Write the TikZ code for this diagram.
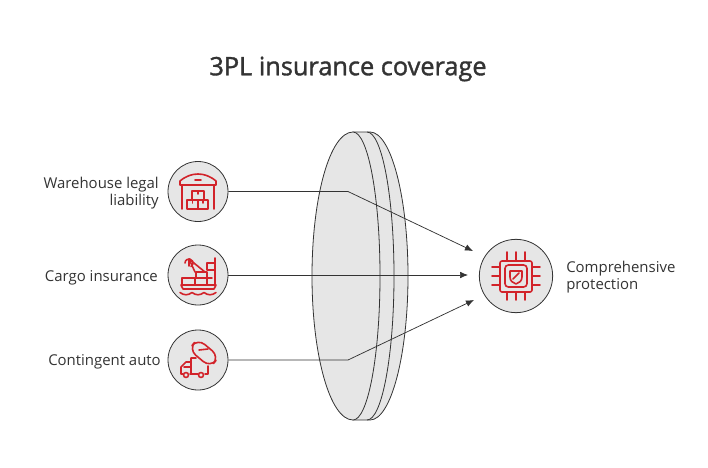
\documentclass[tikz,border=0pt]{standalone}
\usepackage{fontspec}
\setmainfont{Open Sans}
\newfontfamily\titlefont[FakeBold=1.4]{Open Sans}
\usetikzlibrary{arrows.meta}
\definecolor{iconred}{HTML}{D2232A}
\definecolor{fillgray}{HTML}{E6E6E6}
\definecolor{inkline}{HTML}{333333}
\definecolor{txt}{HTML}{333333}
\tikzset{
  badge/.style={circle,draw=inkline,fill=fillgray,line width=0.6pt,minimum size=45pt,inner sep=0pt},
  lens/.style={draw=inkline,fill=fillgray,line width=0.6pt},
  conn/.style={draw=inkline,line width=0.55pt,-{Latex[length=6pt,width=5pt]}},
  icon/.style={draw=iconred,line width=1.2pt,line join=round,line cap=round},
  lab/.style={text=txt,font=\fontsize{11.2}{13}\selectfont,inner sep=0pt},
}
\begin{document}
\begin{tikzpicture}[x=0.75pt,y=-0.75pt]
\useasboundingbox (0,0) rectangle (708,468);
\node[text=txt,font=\titlefont\fontsize{19}{24}\selectfont] (title) at (348,69) {3PL insurance coverage};
% lens
\path[lens] (353,132) -- (370,132) .. controls (391,132) and (408,197) .. (408,276) .. controls (408,355) and (391,420) .. (370,420) -- (353,420) -- cycle;
\draw[lens,fill=none] (367,132) .. controls (382,132) and (394,197) .. (394,276) .. controls (394,355) and (382,420) .. (367,420);
\path[lens] (353,132) .. controls (330,132) and (312,197) .. (312,276) .. controls (312,355) and (330,420) .. (353,420) .. controls (368,420) and (380,355) .. (380,276) .. controls (380,197) and (368,132) .. (353,132) -- cycle;
% badges
\node[badge] (a) at (198,191.5) {};
\node[badge] (b) at (198,275) {};
\node[badge] (c) at (198,360) {};
\node[badge,minimum size=55pt] (d) at (516,276) {};
% connectors
\coordinate (ab) at (348,191.5);
\coordinate (cb) at (348,360);
\coordinate (ae) at (473,251);
\coordinate (be) at (468,275);
\coordinate (ce) at (474,300);
\draw[conn] (a) -- (ab) -- (ae);
\draw[conn] (b) -- (be);
\draw[conn] (c) -- (cb) -- (ce);
% labels
\node[lab,align=right,anchor=east] (la) at (159,193) {Warehouse legal\\liability};
\node[lab,anchor=east] (lb) at (158,277.5) {Cargo insurance};
\node[lab,anchor=east] (lc) at (161,361.5) {Contingent auto};
\node[lab,align=left,anchor=west] (ld) at (566,277) {Comprehensive\\protection};
% warehouse icon
\draw[icon] (180,185) -- (180,181) .. controls (186,176) and (192,174) .. (198,174) .. controls (204,174) and (210,176) .. (216,181) -- (216,185) -- cycle;
\draw[icon] (195,180) -- (201,180);
\draw[icon] (182,185) -- (182,209) (214,185) -- (214,209);
\draw[icon] (192,191) rectangle (204,200);
\draw[icon] (187,200) rectangle (198,209);
\draw[icon] (198,200) rectangle (208,209);
\draw[icon] (198,191) -- (198,194) (192.5,200) -- (192.5,203) (203,200) -- (203,203);
% ship icon
\draw[icon] (181,285) -- (216,285) -- (214,289) -- (183,289) -- cycle;
\draw[icon] (182,285) -- (182,278) -- (212,278) (195,278) -- (195,285) (207,278) -- (207,285);
\draw[icon] (196,278) -- (196,272) -- (207,272) -- (207,278);
\draw[icon] (215,285) -- (215,258) (207,263) rectangle (215,270);
\draw[icon] (189,259) -- (205,272);
\draw[icon] (189,259) -- (195,272) (189,259) -- (189,266);
\draw[icon] (191,266.5) arc (60:-180:4);
\draw[icon] (180,292.5) .. controls (184,295.5) and (188,295.5) .. (192,292.5) .. controls (196,295.5) and (200,295.5) .. (204,292.5) .. controls (208,295.5) and (212,295.5) .. (216,292.5);
% truck and pill icon
\draw[icon,rounded corners=6.8pt,rotate around={-40:(204,353)}] (190,346) rectangle (218,360);
\draw[icon] (199,350) -- (208,349);
\draw[icon] (208,366) -- (208,374) -- (205,374) (198,374) -- (190,374) (183,374) -- (181,374) -- (181,367) -- (186,362) -- (191,362) -- (191,358) -- (196,358);
\draw[icon] (191,362) -- (191,374) (184,367) -- (190,367);
\draw[icon] (186,375) circle (2.5) (201,375) circle (2.5);
% chip icon
\draw[icon,rounded corners=1.5pt] (500,261) rectangle (532,292);
\draw[icon,rounded corners=2.5pt] (505,265) rectangle (527,287);
\draw[icon] (507,252) -- (507,261) (516,252) -- (516,261) (525,252) -- (525,261);
\draw[icon] (507,292) -- (507,300) (516,292) -- (516,300) (525,292) -- (525,300);
\draw[icon] (492,267) -- (500,267) (492,276) -- (500,276) (492,285) -- (500,285);
\draw[icon] (532,267) -- (540,267) (532,276) -- (540,276) (532,285) -- (540,285);
\draw[icon] (510,271) -- (522,271) -- (522,277) .. controls (522,281) and (519,283) .. (516,284) .. controls (513,283) and (510,281) .. (510,277) -- cycle;
\draw[icon] (513,279) -- (519,273);
\end{tikzpicture}
\end{document}
